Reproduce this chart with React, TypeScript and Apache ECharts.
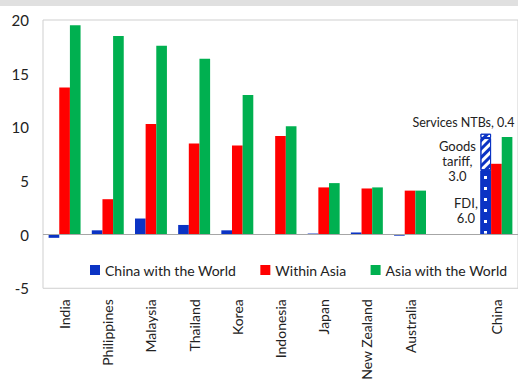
import React, { useEffect, useRef } from "react";
import * as echarts from "echarts";

const categories = ["India", "Philippines", "Malaysia", "Thailand", "Korea", "Indonesia", "Japan", "New Zealand", "Australia", "", "China"];
const chinaWithWorld = [-0.3, 0.4, 1.5, 0.9, 0.4, 0.05, 0.1, 0.2, -0.1, null, null];
const chinaFDI = [null, null, null, null, null, null, null, null, null, null, 6.0];
const chinaGoodsTariff = [null, null, null, null, null, null, null, null, null, null, 3.0];
const chinaServicesNTBs = [null, null, null, null, null, null, null, null, null, null, 0.4];
const withinAsia = [13.7, 3.3, 10.3, 8.5, 8.3, 9.2, 4.4, 4.3, 4.1, null, 6.6];
const asiaWithWorld = [19.5, 18.5, 17.6, 16.4, 13.0, 10.1, 4.8, 4.4, 4.1, null, 9.1];
const yTicks = { min: -5, max: 20, interval: 5 };

const FONT = "Lato";
const BLUE = "#0b33c4";
const RED = "#ff0000";
const GREEN = "#00b050";
const TEXT = "#222222";

export default function App() {
  const ref = useRef<HTMLDivElement>(null);
  useEffect(() => {
    if (!ref.current) return;
    const chart = echarts.init(ref.current, undefined, { renderer: "svg" });
    const hatch = {
      symbol: "rect",
      color: BLUE,
      dashArrayX: [1, 0],
      dashArrayY: [3, 3],
      rotation: -Math.PI / 4,
      symbolSize: 1,
    };
    const labelBase = {
      show: true,
      color: TEXT,
      fontFamily: FONT,
      fontSize: 13,
      lineHeight: 15,
      align: "center",
      verticalAlign: "middle",
    };
    chart.setOption({
      animation: false,
      textStyle: { fontFamily: FONT },
      graphic: [
        { type: "rect", left: 0, top: 0, shape: { width: 518, height: 6 }, style: { fill: "#e0e0e0" }, silent: true },
      ],
      grid: {
        left: 43,
        top: 20,
        width: 478,
        bottom: 89,
        show: true,
        borderColor: "#cfcfcf",
        borderWidth: 1,
        backgroundColor: "transparent",
      },
      legend: {
        data: ["China with the World", "Within Asia", "Asia with the World"],
        left: 85,
        top: 258,
        itemWidth: 10,
        itemHeight: 10,
        itemGap: 24,
        icon: "rect",
        textStyle: { fontFamily: FONT, fontSize: 14, color: TEXT },
      },
      xAxis: {
        type: "category",
        data: categories,
        axisLine: { show: false },
        axisTick: { show: false },
        axisLabel: { rotate: 90, margin: 11, fontFamily: FONT, fontSize: 14, color: TEXT, interval: 0 },
      },
      yAxis: {
        type: "value",
        min: yTicks.min,
        max: yTicks.max,
        interval: yTicks.interval,
        axisLine: { show: false },
        axisTick: { show: false },
        splitLine: { show: false },
        axisLabel: { margin: 14, fontFamily: FONT, fontSize: 15, color: TEXT },
      },
      series: [
        {
          name: "China with the World",
          type: "bar",
          stack: "blue",
          data: chinaWithWorld,
          itemStyle: { color: BLUE },
          barGap: "0%",
          barCategoryGap: "26%",
          markLine: {
            silent: true,
            symbol: ["none", "none"],
            label: { show: false },
            lineStyle: { color: "#a6a6a6", type: "solid", width: 1 },
            data: [{ yAxis: 0 }],
          },
        },
        {
          name: "FDI",
          type: "bar",
          stack: "blue",
          data: chinaFDI,
          itemStyle: {
            color: BLUE,
            borderColor: BLUE,
            borderWidth: 1,
            decal: { symbol: "rect", color: "#ffffff", dashArrayX: [3, 8], dashArrayY: [3, 8], symbolSize: 1 },
          },
          label: {
            ...labelBase,
            position: [-14.5, 40.5],
            formatter: (p: any) => `${p.seriesName},\n${Number(p.value).toFixed(1)}`,
          },
        },
        {
          name: "Goods tariff",
          type: "bar",
          stack: "blue",
          data: chinaGoodsTariff,
          itemStyle: { color: "#ffffff", borderColor: BLUE, borderWidth: 1, decal: hatch },
          label: {
            ...labelBase,
            position: [-23, 22.5],
            formatter: (p: any) => `${p.seriesName.replace(" ", "\n")},\n${Number(p.value).toFixed(1)}`,
          },
        },
        {
          name: "Services NTBs",
          type: "bar",
          stack: "blue",
          data: chinaServicesNTBs,
          itemStyle: { color: "#ffffff", borderColor: BLUE, borderWidth: 1, decal: hatch },
          label: {
            ...labelBase,
            fontSize: 12.5,
            position: [-17, -11.6],
            formatter: (p: any) => `${p.seriesName}, ${Number(p.value).toFixed(1)}`,
          },
        },
        {
          name: "Within Asia",
          type: "bar",
          data: withinAsia,
          itemStyle: { color: RED },
        },
        {
          name: "Asia with the World",
          type: "bar",
          data: asiaWithWorld,
          itemStyle: { color: GREEN },
        },
      ],
    });
    return () => chart.dispose();
  }, []);
  return (
    <div
      ref={ref}
      style={{ position: "fixed", left: 0, top: 0, width: 518, height: 383, background: "#ffffff" }}
    />
  );
}
